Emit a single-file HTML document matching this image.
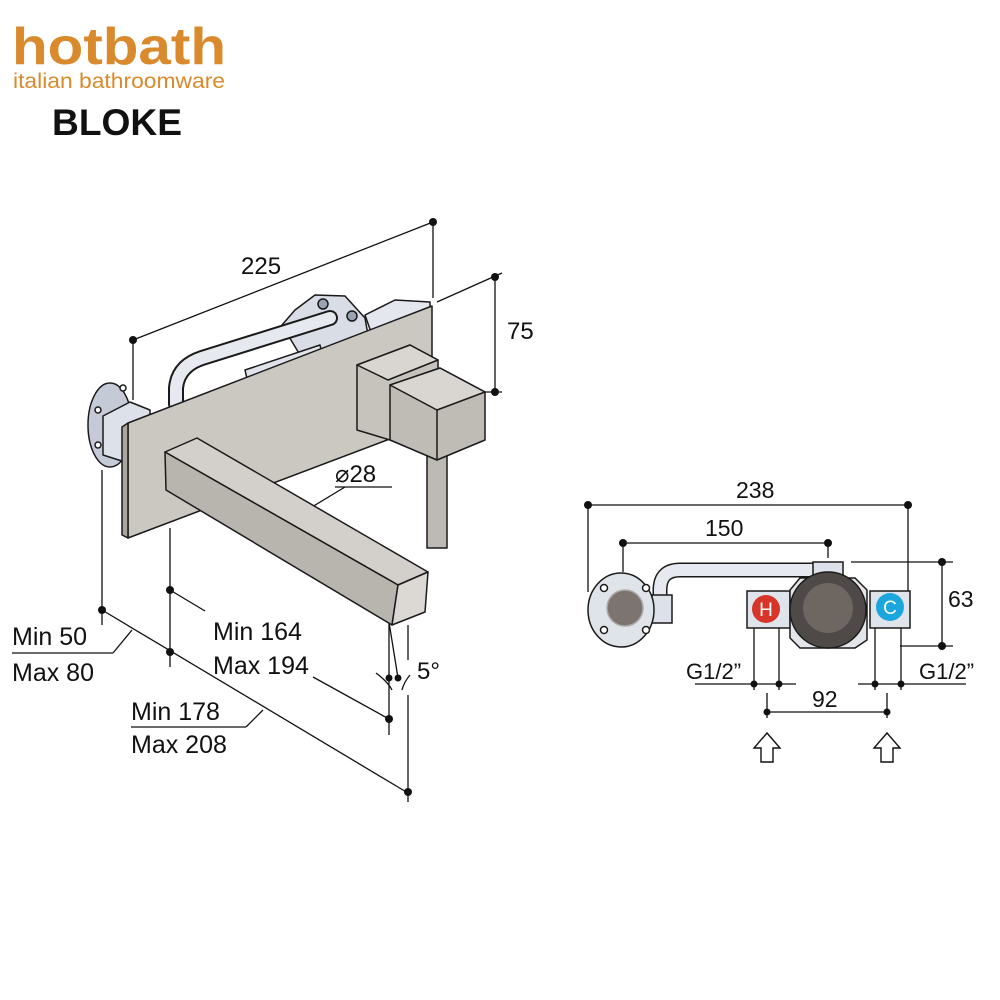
<!DOCTYPE html>
<html><head><meta charset="utf-8"><style>
html,body{margin:0;padding:0;background:#fff;}
svg{display:block;}
text{font-family:"Liberation Sans",Arial,sans-serif;}
</style></head><body>
<svg width="1000" height="1000" viewBox="0 0 1000 1000" xmlns="http://www.w3.org/2000/svg">
<rect width="1000" height="1000" fill="#fff"/>
<text x="12" y="64" font-size="52" font-weight="bold" fill="#d98a2c" textLength="214" lengthAdjust="spacingAndGlyphs">hotbath</text>
<text x="13" y="88" font-size="21" fill="#d98a2c" textLength="212" lengthAdjust="spacingAndGlyphs">italian bathroomware</text>
<text x="52" y="135" font-size="37" font-weight="bold" fill="#111" textLength="130" lengthAdjust="spacingAndGlyphs">BLOKE</text>

<g stroke="#111" stroke-width="1.3" fill="none">
<line x1="133" y1="340" x2="433" y2="222"/>
<line x1="133" y1="340" x2="133" y2="400"/>
<line x1="433" y1="222" x2="433" y2="298"/>
<line x1="437" y1="302" x2="502" y2="273"/>
<line x1="495" y1="277" x2="495" y2="392"/>
<line x1="484" y1="392" x2="502" y2="392"/>
<line x1="102" y1="470" x2="102" y2="625"/>
<line x1="170" y1="528" x2="170" y2="667"/>
<line x1="102" y1="610" x2="408" y2="793"/>
<line x1="170" y1="590" x2="205" y2="611"/>
<line x1="132" y1="630" x2="113" y2="653"/>
<line x1="12" y1="653" x2="113" y2="653"/>
<line x1="313" y1="677" x2="389" y2="719"/>
<line x1="131" y1="727" x2="246" y2="727"/>
<line x1="246" y1="727" x2="263" y2="710"/>
<line x1="389" y1="622" x2="389" y2="735"/>
<line x1="389" y1="622" x2="398" y2="678"/>
<line x1="408" y1="625" x2="408" y2="660"/>
<line x1="408" y1="695" x2="408" y2="802"/>
<path d="M376 673 Q388 682 392 690 M402 690 Q404 682 410 675"/>
<line x1="335" y1="487" x2="392" y2="487"/>
<line x1="345" y1="487" x2="307" y2="510"/>
</g>
<g fill="#111">
<circle cx="133" cy="340" r="4"/><circle cx="433" cy="222" r="4"/>
<circle cx="495" cy="277" r="4"/><circle cx="495" cy="392" r="4"/>
<circle cx="102" cy="610" r="4"/><circle cx="170" cy="590" r="4"/><circle cx="170" cy="652" r="4"/>
<circle cx="408" cy="792" r="4"/><circle cx="389" cy="719" r="4"/>
<circle cx="389" cy="678" r="3.5"/><circle cx="398" cy="678" r="3.5"/>
<circle cx="307" cy="508" r="4"/>
</g>

<g stroke="#1a1a1a" stroke-width="1.5" stroke-linejoin="round">
<ellipse cx="110" cy="425" rx="22" ry="42" fill="#c5cbd6"/>
<circle cx="98" cy="410" r="3" fill="#fff"/><circle cx="98" cy="445" r="3" fill="#fff"/>
<circle cx="123" cy="388" r="3" fill="#fff"/><circle cx="123" cy="458" r="3" fill="#fff"/>
<polygon points="103,416 130,402 150,410 150,450 125,462 103,455" fill="#dde2ea"/>
<polygon points="282,325 295,310 315,295 345,296 365,318 368,335 300,355" fill="#d8dde6"/>
<polygon points="365,315 395,300 430,302 430,320 372,335" fill="#e4e8ee"/>
<polygon points="245,370 320,345 325,368 250,392" fill="#e0e4ea"/>
<path d="M176 404 L176 388 Q178 366 202 358 L330 318" stroke="#1a1a1a" stroke-width="16" fill="none" stroke-linecap="round"/>
<path d="M176 404 L176 388 Q178 366 202 358 L330 318" stroke="#e6e9ef" stroke-width="12" fill="none" stroke-linecap="round"/>
<circle cx="323" cy="304" r="5" fill="#9aa3b2"/><circle cx="352" cy="316" r="5" fill="#9aa3b2"/>
<polygon points="128,423 432,306 432,423 128,538" fill="#cbc7c1"/>
<polygon points="122,427 128,423 128,538 122,535" fill="#a9a59f"/>
<polygon points="165,452 197,438 428,572 398,585" fill="#d3d0cb"/>
<polygon points="165,452 398,585 392,625 166,490" fill="#b8b4ae"/>
<polygon points="398,585 428,572 425,612 392,625" fill="#dcd9d4"/>
<rect x="427" y="440" width="20" height="108" fill="#bdb9b3"/>
<polygon points="357,365 410,345 438,360 438,420 390,440 357,430" fill="#c6c2bc"/>
<polygon points="357,365 410,345 438,360 388,380" fill="#d9d6d1"/>
<polygon points="390,385 440,368 485,392 485,440 437,460 390,440" fill="#bfbbb5"/>
<polygon points="390,385 440,368 485,392 437,410" fill="#d9d6d1"/>
<line x1="437" y1="410" x2="437" y2="460"/>
</g>
<text x="335" y="482" font-size="24" fill="#111">⌀28</text>
<text x="241" y="274" font-size="24" fill="#111">225</text>
<text x="507" y="339" font-size="24" fill="#111">75</text>
<text x="12" y="645" font-size="25" fill="#111">Min 50</text>
<text x="12" y="681" font-size="25" fill="#111">Max 80</text>
<text x="213" y="640" font-size="25" fill="#111">Min 164</text>
<text x="213" y="674" font-size="25" fill="#111">Max 194</text>
<text x="131" y="720" font-size="25" fill="#111">Min 178</text>
<text x="131" y="753" font-size="25" fill="#111">Max 208</text>
<text x="417" y="679" font-size="24" fill="#111">5°</text>

<g stroke="#111" stroke-width="1.3" fill="none">
<line x1="588" y1="505" x2="908" y2="505"/>
<line x1="588" y1="505" x2="588" y2="592"/>
<line x1="908" y1="505" x2="908" y2="592"/>
<line x1="623" y1="543" x2="828" y2="543"/>
<line x1="623" y1="543" x2="623" y2="572"/>
<line x1="828" y1="543" x2="828" y2="558"/>
<line x1="851" y1="562" x2="953" y2="562"/>
<line x1="900" y1="646" x2="953" y2="646"/>
<line x1="942" y1="562" x2="942" y2="646"/>
<line x1="695" y1="684" x2="796" y2="684"/>
<line x1="858" y1="684" x2="966" y2="684"/>
<line x1="754" y1="628" x2="754" y2="690"/>
<line x1="779" y1="628" x2="779" y2="690"/>
<line x1="875" y1="628" x2="875" y2="690"/>
<line x1="901" y1="628" x2="901" y2="690"/>
<line x1="767" y1="712" x2="887" y2="712"/>
<line x1="767" y1="693" x2="767" y2="718"/>
<line x1="887" y1="693" x2="887" y2="718"/>
</g>
<g fill="#111">
<circle cx="588" cy="505" r="4"/><circle cx="908" cy="505" r="4"/>
<circle cx="623" cy="543" r="4"/><circle cx="828" cy="543" r="4"/>
<circle cx="942" cy="562" r="4"/><circle cx="942" cy="646" r="4"/>
<circle cx="754" cy="684" r="3.5"/><circle cx="779" cy="684" r="3.5"/>
<circle cx="875" cy="684" r="3.5"/><circle cx="901" cy="684" r="3.5"/>
<circle cx="767" cy="712" r="3.5"/><circle cx="887" cy="712" r="3.5"/>
</g>
<g stroke="#1a1a1a" stroke-width="1.5">
<path d="M660 607 L660 590 Q660 570 680 570 L815 570" stroke="#1a1a1a" stroke-width="15" fill="none"/>
<path d="M660 607 L660 590 Q660 570 680 570 L815 570" stroke="#e6e9ef" stroke-width="12" fill="none"/>
<rect x="652" y="595" width="20" height="28" fill="#dde2ea"/>
<ellipse cx="621" cy="610" rx="33" ry="37" fill="#dfe3ea"/>
<circle cx="604" cy="588" r="3.5" fill="#fff"/><circle cx="646" cy="588" r="3.5" fill="#fff"/>
<circle cx="604" cy="630" r="3.5" fill="#fff"/><circle cx="646" cy="630" r="3.5" fill="#fff"/>
<circle cx="625" cy="608" r="18" fill="#7c746f" stroke="#aaa"/>
<rect x="813" y="562" width="30" height="14" fill="#dde2ea"/>
<rect x="747" y="591" width="43" height="37" fill="#dfe3ea"/>
<rect x="870" y="591" width="40" height="37" fill="#dfe3ea"/>
<polygon points="800,578 855,578 867,590 867,640 855,648 800,648 790,638 790,590" fill="#e2e5ea"/>
<circle cx="828" cy="610" r="38" fill="#4f4a47"/>
<circle cx="828" cy="608" r="25" fill="#6d6661" stroke="none"/>
<circle cx="766" cy="609" r="14" fill="#d8352a" stroke="none"/>
<circle cx="890" cy="607" r="14" fill="#1ba6dd" stroke="none"/>
</g>
<text x="766" y="616" font-size="19" fill="#fff" text-anchor="middle">H</text>
<text x="890" y="614" font-size="19" fill="#fff" text-anchor="middle">C</text>
<g stroke="#111" stroke-width="1.4" fill="#fff">
<path d="M761 762 L761 748 L754 748 L767 733 L780 748 L773 748 L773 762 Z"/>
<path d="M881 762 L881 748 L874 748 L887 733 L900 748 L893 748 L893 762 Z"/>
</g>
<text x="736" y="498" font-size="23" fill="#111">238</text>
<text x="705" y="536" font-size="23" fill="#111">150</text>
<text x="948" y="607" font-size="23" fill="#111">63</text>
<text x="686" y="679" font-size="22" fill="#111">G1/2”</text>
<text x="919" y="679" font-size="22" fill="#111">G1/2”</text>
<text x="812" y="707" font-size="23" fill="#111">92</text>
</svg>
</body></html>
